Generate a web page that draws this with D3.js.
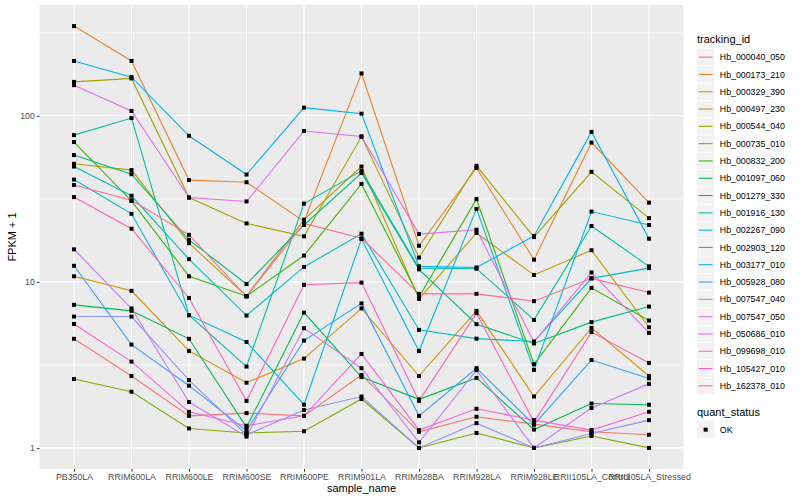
<!DOCTYPE html>
<html>
<head>
<meta charset="utf-8">
<script src="https://cdn.jsdelivr.net/npm/d3@7"></script>
<style>
  body { margin: 0; background: #fff; }
  svg text { font-family: "Liberation Sans", Arial, sans-serif; }
</style>
</head>
<body>
<div class="visHolder"></div>
<script>
let width = 800;
let height = 500;

let samples = ["PB350LA", "RRIM600LA", "RRIM600LE", "RRIM600SE", "RRIM600PE", "RRIM901LA",
  "RRIM928BA", "RRIM928LA", "RRIM928LE", "RRII105LA_Control", "RRII105LA_Stressed"];

let trackingIds = ["Hb_000040_050", "Hb_000173_210", "Hb_000329_390", "Hb_000497_230",
  "Hb_000544_040", "Hb_000735_010", "Hb_000832_200", "Hb_001097_060", "Hb_001279_330",
  "Hb_001916_130", "Hb_002267_090", "Hb_002903_120", "Hb_003177_010", "Hb_005928_080",
  "Hb_007547_040", "Hb_007547_050", "Hb_050686_010", "Hb_099698_010", "Hb_105427_010",
  "Hb_162378_010"];

// FPKM + 1, one row per tracking id, one value per sample
let hb000040 = [4.54, 2.71, 1.56, 1.62, 1.56, 2.75, 1.25, 1.54, 1.39, 1.25, 1.20];
let hb000173 = [347, 214, 41, 39.8, 23.1, 180, 16.5, 48.5, 13.6, 69, 30];
let hb000329 = [10.8, 8.83, 3.84, 2.47, 3.45, 6.92, 2.71, 6.69, 2.04, 5.28, 2.71];
let hb000497 = [51.4, 47.1, 17.1, 8.2, 23.7, 49.5, 7.9, 19.7, 11, 15.5, 5.33];
let hb000544 = [160, 168, 32.2, 22.5, 18.8, 75, 14, 50, 18.6, 46, 24.2];
let hb000735 = [2.6, 2.18, 1.31, 1.23, 1.26, 1.97, 1.0, 1.23, 1.0, 1.18, 1.0];
let hb000832 = [69.5, 30.7, 10.8, 8.2, 14.4, 38.9, 8.1, 31.5, 3.19, 9.2, 5.85];
let hb001097 = [7.27, 6.69, 4.54, 1.33, 6.53, 2.67, 1.96, 2.64, 1.29, 1.85, 1.82];
let hb001279 = [58, 44.5, 17.9, 9.7, 22.0, 45.2, 11.9, 5.56, 4.26, 5.72, 7.1];
let hb001916 = [76.5, 96.9, 6.3, 3.09, 29.6, 46.6, 12.1, 12.0, 5.9, 21.7, 12.4];
let hb002267 = [49.5, 33, 13.7, 6.27, 12.3, 19.5, 5.14, 4.55, 4.37, 10.5, 12.1];
let hb002903 = [41.3, 25.7, 6.3, 4.35, 1.82, 18.1, 3.83, 27.5, 2.95, 26.5, 22];
let hb003177 = [214, 171, 75.8, 44.3, 112, 103, 12.4, 12.2, 18.9, 80, 18.2];
let hb005928 = [12.5, 4.19, 2.37, 1.27, 4.43, 7.42, 1.56, 3.02, 1.38, 3.38, 2.62];
let hb007547a = [6.18, 6.18, 2.56, 1.2, 1.69, 2.04, 1.0, 1.41, 1.0, 1.22, 1.47];
let hb007547b = [15.7, 6.91, 1.89, 1.17, 5.26, 3.02, 1.08, 2.94, 1.0, 1.74, 2.43];
let hb050686 = [153, 107, 32.2, 30.5, 81, 75, 19.4, 20.6, 4.35, 11.4, 4.93];
let hb099698 = [5.58, 3.31, 1.65, 1.36, 1.56, 3.68, 1.28, 1.72, 1.47, 1.28, 1.65];
let hb105427 = [32.4, 20.9, 8.0, 1.92, 9.6, 9.9, 1.92, 6.48, 1.43, 4.98, 3.25];
let hb162378 = [38.3, 31, 19.2, 8.16, 22.5, 18.3, 8.47, 8.47, 7.65, 10.5, 8.62];

let values = [hb000040, hb000173, hb000329, hb000497, hb000544, hb000735, hb000832,
  hb001097, hb001279, hb001916, hb002267, hb002903, hb003177, hb005928, hb007547a,
  hb007547b, hb050686, hb099698, hb105427, hb162378];

let yBreaks = [1, 10, 100];
let yMinor = [Math.sqrt(10), Math.sqrt(1000), Math.sqrt(100000)];

// ggplot hue palette for 20 levels
let colors = ["#F8766D", "#EA8331", "#D89000", "#C09B00", "#A3A500", "#7CAE00", "#39B600",
  "#00BB4E", "#00BF7D", "#00C1A3", "#00BFC4", "#00BAE0", "#00B0F6", "#35A2FF", "#9590FF",
  "#C77CFF", "#E76BF3", "#FA62DB", "#FF62BC", "#FF6C91"];

let panel = { left: 39.5, right: 683.5, top: 5, bottom: 469 };

let svg = d3.select(".visHolder").append("svg")
  .attr("width", width)
  .attr("height", height);

let xScale = d3.scalePoint()
  .domain(samples)
  .range([panel.left, panel.right])
  .padding(0.6);

let allValues = values.flat();
let L = Math.log10(d3.max(allValues));
let yScale = d3.scaleLog()
  .domain([Math.pow(10, -0.05 * L), Math.pow(10, 1.05 * L)])
  .range([panel.bottom, panel.top]);

// panel background and grid
svg.append("rect")
  .attr("x", panel.left).attr("y", panel.top)
  .attr("width", panel.right - panel.left)
  .attr("height", panel.bottom - panel.top)
  .attr("fill", "#EBEBEB");

svg.append("g").selectAll("line")
  .data(yMinor.filter(d => yScale(d) > panel.top))
  .enter().append("line")
  .attr("x1", panel.left).attr("x2", panel.right)
  .attr("y1", d => yScale(d)).attr("y2", d => yScale(d))
  .attr("stroke", "#fff").attr("stroke-width", 0.55);

svg.append("g").selectAll("line")
  .data(yBreaks)
  .enter().append("line")
  .attr("x1", panel.left).attr("x2", panel.right)
  .attr("y1", d => yScale(d)).attr("y2", d => yScale(d))
  .attr("stroke", "#fff").attr("stroke-width", 1.1);

svg.append("g").selectAll("line")
  .data(samples)
  .enter().append("line")
  .attr("x1", d => xScale(d)).attr("x2", d => xScale(d))
  .attr("y1", panel.top).attr("y2", panel.bottom)
  .attr("stroke", "#fff").attr("stroke-width", 1.1);

// lines
let line = d3.line()
  .x((d, i) => xScale(samples[i]))
  .y(d => yScale(d));

svg.append("g").selectAll("path")
  .data(values)
  .enter().append("path")
  .attr("d", d => line(d))
  .attr("fill", "none")
  .attr("stroke", (d, i) => colors[i])
  .attr("stroke-width", 1.1);

// points
let points = [];
values.forEach(function (row) {
  row.forEach(function (v, i) {
    points.push({ sample: samples[i], value: v });
  });
});

svg.append("g").selectAll("rect")
  .data(points)
  .enter().append("rect")
  .attr("x", d => xScale(d.sample) - 2)
  .attr("y", d => yScale(d.value) - 2)
  .attr("width", 4).attr("height", 4)
  .attr("fill", "#000");

// axes
let xAxis = d3.axisBottom(xScale).tickSize(2.7).tickPadding(2);
let yAxis = d3.axisLeft(yScale).tickValues(yBreaks).tickFormat(d3.format("d")).tickSize(2.7).tickPadding(2);

let gx = svg.append("g")
  .attr("transform", "translate(0," + panel.bottom + ")")
  .call(xAxis);
let gy = svg.append("g")
  .attr("transform", "translate(" + panel.left + ",0)")
  .call(yAxis);

[gx, gy].forEach(function (g) {
  g.select(".domain").remove();
  g.selectAll(".tick line").attr("stroke", "#333");
  g.selectAll(".tick text")
    .attr("fill", "#4D4D4D")
    .style("font-size", "8.8px")
    .style("font-family", "'Liberation Sans', Arial, sans-serif");
});

svg.append("text")
  .attr("x", (panel.left + panel.right) / 2)
  .attr("y", 492)
  .attr("text-anchor", "middle")
  .style("font-size", "11px")
  .text("sample_name");

svg.append("text")
  .attr("transform", "translate(16," + (panel.top + panel.bottom) / 2 + ") rotate(-90)")
  .attr("text-anchor", "middle")
  .style("font-size", "11px")
  .text("FPKM + 1");

// legends
let legendX = 697;
let keySize = 17.3;
let legendTop = 48.5;

svg.append("text")
  .attr("x", legendX).attr("y", 43)
  .style("font-size", "11px")
  .text("tracking_id");

let keys = svg.append("g").selectAll("g")
  .data(trackingIds)
  .enter().append("g")
  .attr("transform", (d, i) => "translate(" + legendX + "," + (legendTop + i * keySize) + ")");

keys.append("rect")
  .attr("width", keySize).attr("height", keySize)
  .attr("fill", "#F2F2F2")
  .attr("stroke", "#fff").attr("stroke-width", 0.5);

keys.append("line")
  .attr("x1", 1.7).attr("x2", keySize - 1.7)
  .attr("y1", keySize / 2).attr("y2", keySize / 2)
  .attr("stroke", (d, i) => colors[i])
  .attr("stroke-width", 1.1);

keys.append("text")
  .attr("x", keySize + 5.5).attr("y", keySize / 2 + 3.1)
  .style("font-size", "8.8px")
  .text(d => d);

svg.append("text")
  .attr("x", legendX).attr("y", 416)
  .style("font-size", "11px")
  .text("quant_status");

let ok = svg.append("g").attr("transform", "translate(" + legendX + ",421)");
ok.append("rect")
  .attr("width", keySize).attr("height", keySize)
  .attr("fill", "#F2F2F2");
ok.append("rect")
  .attr("x", keySize / 2 - 2).attr("y", keySize / 2 - 2)
  .attr("width", 4).attr("height", 4)
  .attr("fill", "#000");
ok.append("text")
  .attr("x", keySize + 5.5).attr("y", keySize / 2 + 3.1)
  .style("font-size", "8.8px")
  .text("OK");
</script>
</body>
</html>
